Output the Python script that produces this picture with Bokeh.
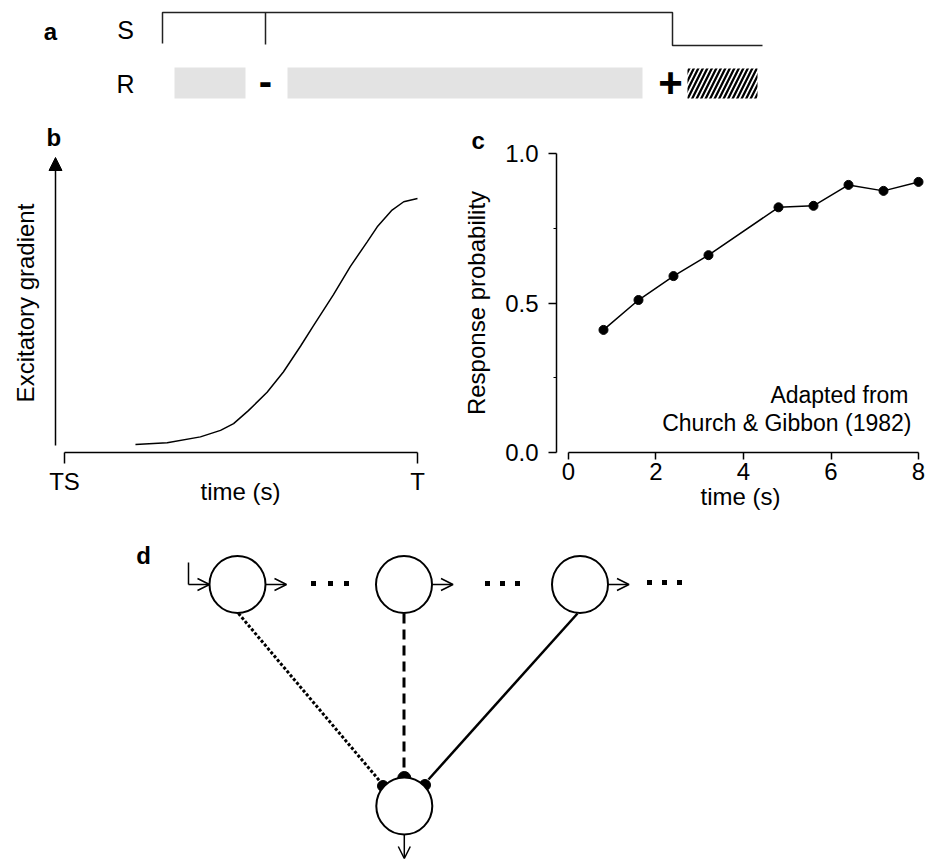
import math

from bokeh.core.properties import value
from bokeh.embed import file_html
from bokeh.layouts import column, row
from bokeh.models import (Arrow, FixedTicker, Label, LinearAxis, NormalHead,
                          NumeralTickFormatter, OpenHead, Range1d, Title)
from bokeh.plotting import figure
from bokeh.resources import INLINE

FONT = "Liberation Sans"

# ---------------------------------------------------------------- data
# b: schematic excitatory gradient over one interval (TS = 0, T = 1)
grad_t = [0.201, 0.291, 0.385, 0.442, 0.479, 0.521, 0.574, 0.620, 0.669,
          0.705, 0.762, 0.810, 0.858, 0.886, 0.928, 0.961, 1.000]
grad_v = [0.027, 0.033, 0.053, 0.075, 0.098, 0.142, 0.204, 0.273, 0.361,
          0.429, 0.535, 0.631, 0.715, 0.765, 0.822, 0.850, 0.861]
gradient_ticks = {0: "TS", 1: "T"}

# c: response probability vs time (Church & Gibbon 1982)
time_s = [0.8, 1.6, 2.4, 3.2, 4.8, 5.6, 6.4, 7.2, 8.0]
resp_prob = [0.41, 0.51, 0.59, 0.66, 0.82, 0.825, 0.895, 0.875, 0.905]
time_ticks = [0, 2, 4, 6, 8]
prob_ticks = [0.0, 0.5, 1.0]
prob_minor = [0.25, 0.75]

# ---------------------------------------------------------------- helpers
def base_fig(w, h, xr, yr, **kw):
    opts = dict(width=w, height=h, x_range=xr, y_range=yr,
                x_axis_type=None, y_axis_type=None,
                toolbar_location=None, output_backend="svg",
                outline_line_color=None, background_fill_color="white",
                border_fill_color="white", min_border=0)
    opts.update(kw)
    return figure(**opts)


def panel_title(p, letter, offset, standoff):
    p.add_layout(Title(text=letter, align="left", offset=offset,
                       standoff=standoff, text_font=FONT,
                       text_font_size="24px", text_font_style="bold",
                       text_color="black"), "above")


def label(p, x, y, text, size="23px", align="right"):
    p.add_layout(Label(x=x, y=y, text=text, text_font=FONT,
                       text_font_size=size, text_align=align,
                       text_baseline="middle", text_color="black"))


TXT = dict(major_label_text_font=FONT, major_label_text_font_size="24px",
           major_label_text_color="black", axis_label_text_font=FONT,
           axis_label_text_font_size="24px", axis_label_text_font_style="normal",
           axis_label_text_color="black")

# ---------------------------------------------------------------- panel a
# trial schedule: stimulus trace S and response periods R (strip units = px)
pa = base_fig(934, 112, Range1d(0, 934), Range1d(112, 0))
stim_x = [162, 162, 672, 672, 762]
stim_y = [43, 12, 12, 45, 45]
pa.line(stim_x, stim_y, line_color="#222222", line_width=1.5)
pa.line([265, 265], [12, 44], line_color="#222222", line_width=1.5)
pa.quad(left=[174, 287], right=[245, 642], top=[67, 67], bottom=[98, 98],
        fill_color="#e3e3e3", line_color=None)
pa.quad(left=[687], right=[757], top=[68], bottom=[98], fill_color=None,
        line_color=None, hatch_pattern="/", hatch_color="black",
        hatch_weight=2.3, hatch_scale=9)
pa.text(x=[50], y=[31], text=["a"], text_font=value(FONT),
        text_font_style="bold", text_font_size="24px",
        text_align="center", text_baseline="middle")
pa.text(x=[125, 125], y=[29, 83], text=["S", "R"], text_font=value(FONT),
        text_font_size="25px", text_align="center", text_baseline="middle")
pa.text(x=[265], y=[80], text=["-"], text_font=value(FONT),
        text_font_style="bold", text_font_size="40px",
        text_align="center", text_baseline="middle")
pa.text(x=[670], y=[82], text=["+"], text_font=value(FONT),
        text_font_style="bold", text_font_size="42px",
        text_align="center", text_baseline="middle")

# ---------------------------------------------------------------- panel b
pb = base_fig(460, 400, Range1d(-0.068, 1.0652), Range1d(0, 1.0136),
              min_border_left=40, min_border_right=20,
              min_border_top=41, min_border_bottom=60)
xb = LinearAxis(ticker=FixedTicker(ticks=list(gradient_ticks)), bounds=(0, 1),
                major_label_overrides=gradient_ticks,
                axis_line_width=1.5, major_tick_line_width=1.5,
                major_tick_in=0, major_tick_out=11,
                minor_tick_line_color=None, major_label_standoff=4,
                axis_label="time (s)", axis_label_standoff=-20, **TXT)
yb = LinearAxis(ticker=FixedTicker(ticks=[]), axis_line_color=None,
                major_tick_line_color=None, minor_tick_line_color=None,
                axis_label="Excitatory gradient", axis_label_standoff=2, **TXT)
pb.add_layout(xb, "below")
pb.add_layout(yb, "left")
pb.add_layout(Arrow(x_start=-0.0255, y_start=0.0236, x_end=-0.0255, y_end=1.0,
                    line_width=1.5, line_color="black",
                    end=NormalHead(size=13, fill_color="black",
                                   line_color="black", line_width=1)))
pb.line(grad_t, grad_v, line_color="black", line_width=1.5)
panel_title(pb, "b", 6, 6)

# ---------------------------------------------------------------- panel c
pc = base_fig(474, 400, Range1d(-0.274, 8.137), Range1d(0, 1),
              min_border_left=96, min_border_right=10,
              min_border_top=41, min_border_bottom=60)
xc = LinearAxis(ticker=FixedTicker(ticks=time_ticks), bounds=(0, 8),
                axis_line_width=1.5, major_tick_line_width=1.5,
                major_tick_in=0, major_tick_out=7,
                minor_tick_line_color=None, major_label_standoff=3,
                axis_label="time (s)", axis_label_standoff=0, **TXT)
yc = LinearAxis(ticker=FixedTicker(ticks=prob_ticks, minor_ticks=prob_minor),
                bounds=(0, 1), formatter=NumeralTickFormatter(format="0.0"),
                axis_line_width=1.5, major_tick_line_width=1.5,
                minor_tick_line_width=1.2,
                major_tick_in=0, major_tick_out=8,
                minor_tick_in=0, minor_tick_out=3,
                major_label_standoff=10,
                axis_label="Response probability", axis_label_standoff=12,
                **TXT)
pc.add_layout(xc, "below")
pc.add_layout(yc, "left")
pc.line(time_s, resp_prob, line_color="black", line_width=1.5)
pc.scatter(time_s, resp_prob, marker="circle", size=9,
           fill_color="black", line_color="black")
label(pc, 7.771, 0.191, "Adapted from")
label(pc, 7.84, 0.100, "Church & Gibbon (1982)")
panel_title(pc, "c", -85, 0)

# ---------------------------------------------------------------- panel d
# chain of timing units feeding one readout unit (diagram units = px)
pd = base_fig(934, 347, Range1d(0, 934), Range1d(859, 512))
chain_x = [237, 403.5, 579.5]
chain_y = [584, 584, 584]
out_x, out_y = 403.8, 805.5
node_r = 28

# projections onto the readout unit
pd.line([238, 380.5], [613, 782], line_color="black", line_width=3,
        line_dash="3 2")
pd.line([403.5, 403.5], [613, 772], line_color="black", line_width=3,
        line_dash="10 6")
pd.line([577, 428], [613, 779], line_color="black", line_width=2.5)
# synaptic terminals
pd.circle(x=[403.8, 382.5, 424.5], y=[777.5, 785.5, 784.5],
          radius=[6.5, 5.5, 5.5], fill_color="black", line_color="black")
# units
pd.ellipse(x=chain_x + [out_x], y=chain_y + [out_y],
           width=2 * node_r, height=2 * node_r + 1,
           fill_color="white", line_color="black", line_width=2)

head = dict(size=12, line_width=1.5, line_color="black")
pd.line([188, 188], [562, 584], line_color="black", line_width=1.5)
pd.add_layout(Arrow(x_start=188, y_start=584, x_end=chain_x[0] - node_r,
                    y_end=584, line_width=1.5, end=OpenHead(**head)))
for cx in chain_x:
    pd.add_layout(Arrow(x_start=cx + node_r, y_start=584, x_end=cx + node_r + 21,
                        y_end=584, line_width=1.5, end=OpenHead(**head)))
pd.add_layout(Arrow(x_start=out_x, y_start=out_y + node_r + 1, x_end=out_x,
                    y_end=858, line_width=1.5, end=OpenHead(**head)))

dots_x = [313, 330, 346, 487, 502, 517, 649, 664, 679]
dots_y = [583] * 6 + [582] * 3
pd.scatter(dots_x, dots_y, marker="square", size=5,
           fill_color="black", line_color=None)
pd.text(x=[143], y=[555], text=["d"], text_font=value(FONT),
        text_font_style="bold", text_font_size="24px",
        text_align="center", text_baseline="middle")

layout = column(pa, row(pb, pc), pd)
open("out.html", "w").write(file_html(layout, INLINE))
